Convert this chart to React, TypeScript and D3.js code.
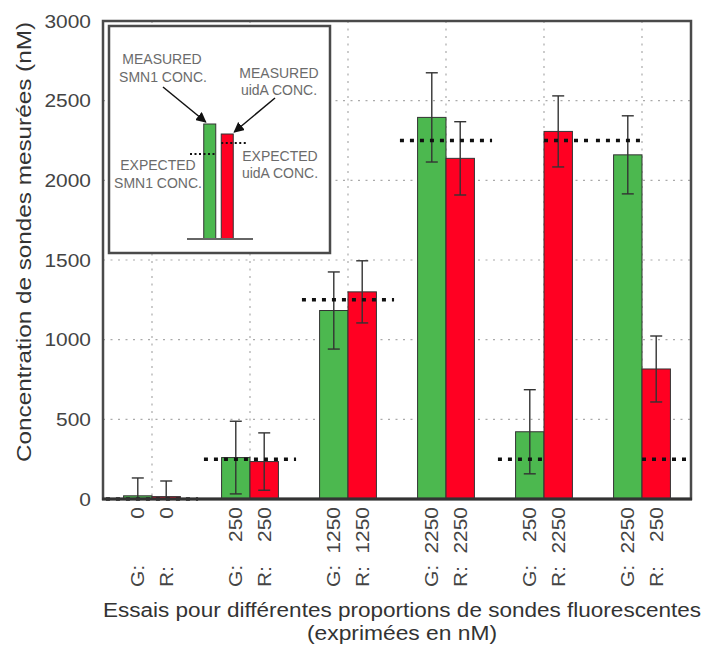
import React from 'react';
import * as d3 from 'd3';

// Six assays: G (SMN1, green) and R (uidA, red) probe concentrations in nM
const groups = ['A', 'B', 'C', 'D', 'E', 'F'];
const greenLabels = ['0', '250', '1250', '2250', '250', '2250'];
const redLabels = ['0', '250', '1250', '2250', '2250', '250'];

const greenMeasured = [20, 260, 1183, 2395, 422, 2160];
const greenError = [112, 228, 242, 280, 264, 245];
const redMeasured = [15, 235, 1300, 2138, 2307, 816];
const redError = [98, 180, 195, 230, 223, 207];

const greenExpected = [0, 250, 1250, 2250, 250, 2250];
const redExpected = [0, 250, 1250, 2250, 2250, 250];

const yTicks = [0, 500, 1000, 1500, 2000, 2500, 3000];
const gridTicks = [500, 1000, 1500, 2000, 2500];

// Inset key (relative heights)
const insetSeries = ['SMN1', 'uidA'];
const insetMeasured = [1.0, 0.913];
const insetExpected = [0.739, 0.835];

const GREEN = '#4cb84f';
const RED = '#ff0022';
const FONT = '"Liberation Sans", Arial, Helvetica, sans-serif';

const W = 703;
const H = 647;
const plot = { left: 103, right: 691, top: 21, bottom: 499 };

export default function App() {
  const x = d3.scaleBand<string>().domain(groups).range([plot.left, plot.right]).padding(0);
  const y = d3.scaleLinear().domain([0, 3000]).range([plot.bottom, plot.top]);
  const bw = x.bandwidth();
  const barW = bw * 0.29;
  const expHalf = bw * 0.47;
  const capHalf = 6;

  // inset scales
  const inset = { x0: 109, y0: 26, x1: 330, y1: 253 };
  const xi = d3.scaleBand<string>().domain(insetSeries).range([201, 236]).padding(0);
  const yi = d3.scaleLinear().domain([0, 1]).range([239, 124]);
  const ibw = 12;

  const series = [
    { key: 'G', color: GREEN, measured: greenMeasured, err: greenError, expected: greenExpected, labels: greenLabels, side: -1 },
    { key: 'R', color: RED, measured: redMeasured, err: redError, expected: redExpected, labels: redLabels, side: 1 },
  ];

  const errorBar = (cx: number, v: number, e: number, key: string) => {
    const lo = Math.max(0, v - e);
    const hi = v + e;
    return (
      <g key={key} stroke="#333" strokeWidth={1.4}>
        <line x1={cx} x2={cx} y1={y(lo)} y2={y(hi)} />
        <line x1={cx - capHalf} x2={cx + capHalf} y1={y(hi)} y2={y(hi)} />
        {v - e > 0 && <line x1={cx - capHalf} x2={cx + capHalf} y1={y(lo)} y2={y(lo)} />}
      </g>
    );
  };

  return (
    <svg width={W} height={H} style={{ position: 'absolute', left: 0, top: 0, background: '#fff' }} fontFamily={FONT}>
      <defs>
        <marker id="arrowhead" viewBox="0 0 10 10" refX="9" refY="5" markerWidth="7" markerHeight="7" orient="auto">
          <path d="M0,0 L10,5 L0,10 z" fill="#111" />
        </marker>
      </defs>

      {/* grid */}
      <g stroke="#aaa" strokeWidth={1.2} strokeDasharray="2 5.5">
        {gridTicks.map((t) => (
          <line key={'h' + t} x1={plot.left} x2={plot.right} y1={y(t)} y2={y(t)} />
        ))}
        {groups.map((g) => (
          <line key={'v' + g} x1={x(g)! + bw / 2} x2={x(g)! + bw / 2} y1={plot.top} y2={plot.bottom} />
        ))}
      </g>

      {/* bars */}
      {groups.map((g, i) => {
        const cx = x(g)! + bw / 2;
        return (
          <g key={'bars' + g}>
            {series.map((s) => {
              const bx = s.side < 0 ? cx - barW : cx;
              return (
                <rect key={s.key} x={bx} y={y(s.measured[i])} width={barW} height={y(0) - y(s.measured[i])}
                  fill={s.color} stroke="#333" strokeWidth={1} />
              );
            })}
          </g>
        );
      })}

      {/* error bars */}
      {groups.map((g, i) => {
        const cx = x(g)! + bw / 2;
        return series.map((s) => errorBar(cx + s.side * barW / 2, s.measured[i], s.err[i], g + s.key));
      })}

      {/* expected concentrations */}
      <g stroke="#111" strokeWidth={3.5} strokeDasharray="4 6">
        {groups.map((g, i) => {
          const cx = x(g)! + bw / 2;
          if (greenExpected[i] === redExpected[i]) {
            return <line key={'e' + g} x1={cx - expHalf} x2={cx + expHalf} y1={y(greenExpected[i])} y2={y(greenExpected[i])} />;
          }
          return (
            <g key={'e' + g}>
              <line x1={cx - expHalf} x2={cx} y1={y(greenExpected[i])} y2={y(greenExpected[i])} />
              <line x1={cx} x2={cx + expHalf} y1={y(redExpected[i])} y2={y(redExpected[i])} />
            </g>
          );
        })}
      </g>

      {/* frame */}
      <rect x={plot.left} y={plot.top} width={plot.right - plot.left} height={plot.bottom - plot.top}
        fill="none" stroke="#4a4a4a" strokeWidth={2.5} />
      <line x1={plot.left - 1} x2={plot.right + 1} y1={plot.bottom} y2={plot.bottom} stroke="#333" strokeWidth={3} />

      {/* inset key */}
      <g>
        <rect x={inset.x0} y={inset.y0} width={inset.x1 - inset.x0} height={inset.y1 - inset.y0}
          fill="#fff" stroke="#4a4a4a" strokeWidth={2.5} />
        {insetSeries.map((k, i) => {
          const bx = xi(k)! + (xi.bandwidth() - ibw) / 2;
          return (
            <rect key={k} x={bx} y={yi(insetMeasured[i])} width={ibw} height={yi(0) - yi(insetMeasured[i])}
              fill={i === 0 ? GREEN : RED} stroke="#333" strokeWidth={1} />
          );
        })}
        <line x1={187} x2={253} y1={yi(0)} y2={yi(0)} stroke="#666" strokeWidth={2} />
        <g stroke="#111" strokeWidth={2} strokeDasharray="2 2.5">
          <line x1={190} x2={xi('SMN1')! + (xi.bandwidth() + ibw) / 2} y1={yi(insetExpected[0])} y2={yi(insetExpected[0])} />
          <line x1={xi('uidA')! + (xi.bandwidth() - ibw) / 2} x2={247} y1={yi(insetExpected[1])} y2={yi(insetExpected[1])} />
        </g>
        <g stroke="#111" strokeWidth={1.5} markerEnd="url(#arrowhead)">
          <line x1={163} y1={87} x2={xi('SMN1')! + (xi.bandwidth() - ibw) / 2 + 2} y2={yi(insetMeasured[0]) - 2} />
          <line x1={275} y1={98} x2={xi('uidA')! + (xi.bandwidth() + ibw) / 2 + 1} y2={yi(insetMeasured[1]) - 2} />
        </g>
        <g fill="#6b6b6b" fontSize={14} textAnchor="middle">
          <text x={162} y={64}>MEASURED</text>
          <text x={163} y={82}>SMN1 CONC.</text>
          <text x={279} y={78}>MEASURED</text>
          <text x={279} y={95}>uidA CONC.</text>
          <text x={158} y={170}>EXPECTED</text>
          <text x={158} y={188}>SMN1 CONC.</text>
          <text x={280} y={161}>EXPECTED</text>
          <text x={280} y={178}>uidA CONC.</text>
        </g>
      </g>

      {/* y axis ticks */}
      <g fill="#444" fontSize={19} textAnchor="end">
        {yTicks.map((t) => (
          <text key={t} transform={`translate(91,${y(t)}) scale(1.1,1)`} dy="0.35em">{t}</text>
        ))}
      </g>

      {/* x axis tick labels */}
      <g fill="#444" fontSize={19}>
        {groups.map((g, i) => {
          const cx = x(g)! + bw / 2;
          return series.map((s) => {
            const lx = cx + s.side * barW / 2;
            return (
              <g key={g + s.key}>
                <text transform={`translate(${lx},507) rotate(-90) scale(1.1,1)`} dy="0.35em" textAnchor="end">{s.labels[i]}</text>
                <text transform={`translate(${lx},587) rotate(-90) scale(1.1,1)`} dy="0.35em" textAnchor="start">{s.key + ':'}</text>
              </g>
            );
          });
        })}
      </g>

      {/* axis titles */}
      <text transform="translate(24,242) rotate(-90)" dy="0.35em" textAnchor="middle" fontSize={20} fill="#333"
        textLength={440} lengthAdjust="spacingAndGlyphs">Concentration de sondes mesurées (nM)</text>
      <text x={402} y={617} textAnchor="middle" fontSize={20} fill="#333"
        textLength={598} lengthAdjust="spacingAndGlyphs">Essais pour différentes proportions de sondes fluorescentes</text>
      <text x={402} y={640} textAnchor="middle" fontSize={20} fill="#333"
        textLength={190} lengthAdjust="spacingAndGlyphs">(exprimées en nM)</text>
    </svg>
  );
}
